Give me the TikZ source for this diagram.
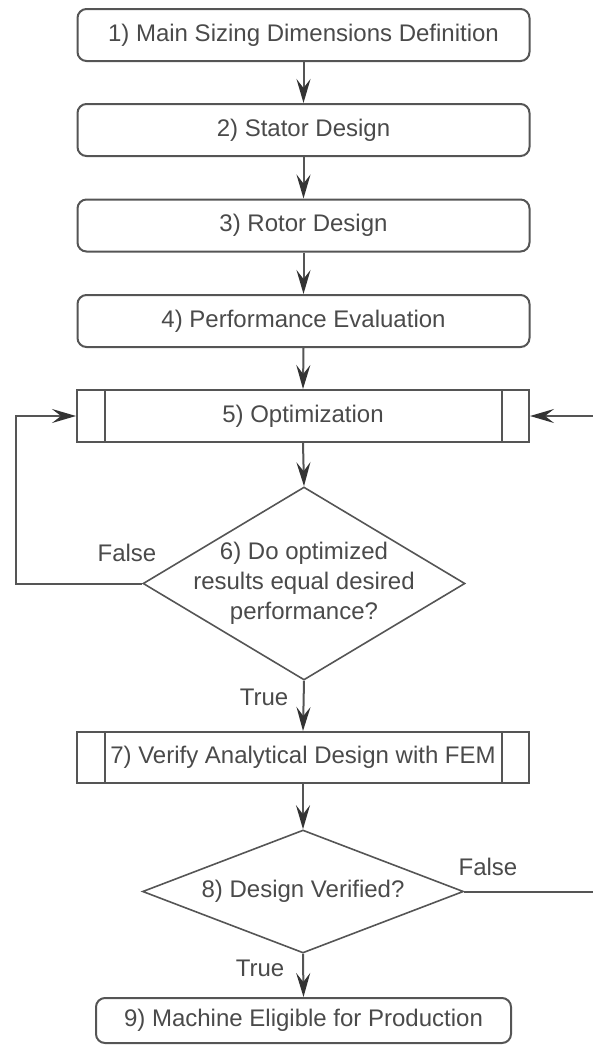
\documentclass[tikz,border=0pt]{standalone}
\usepackage{fontspec}
\setmainfont{Liberation Sans}
\usetikzlibrary{arrows.meta,shapes.geometric}
\definecolor{ink}{HTML}{4A4A4A}
\definecolor{edge}{HTML}{555555}
\definecolor{tipc}{HTML}{333333}

\begin{document}
\begin{tikzpicture}[x=1pt,y=-1pt,
  every node/.style={font=\fontsize{24}{30}\selectfont, text=ink},
  proc/.style={draw=edge, line width=2pt, rounded corners=9pt,
    minimum width=452pt, minimum height=52pt, inner sep=0pt},
  subproc/.style={draw=edge, line width=2pt,
    minimum width=452pt, minimum height=52pt, inner sep=0pt},
  decision/.style={draw=edge, line width=1.6pt, diamond, inner sep=0pt},
  flow/.style={draw=edge, line width=2pt,
    -{Stealth[length=24pt,width=14pt,inset=9pt,color=tipc]}},
  plain/.style={draw=edge, line width=2pt},
  bar/.style={draw=edge, line width=2pt}
]
\useasboundingbox (0,0) rectangle (593,1045);

% main chain of steps
\node[proc] (b1) at (303.5,35) {1) Main Sizing Dimensions Definition};
\node[proc] (b2) at (303.5,130) {2) Stator Design};
\node[proc] (b3) at (303.5,225.5) {3) Rotor Design};
\node[proc] (b4) at (303.5,321) {4) Performance Evaluation};

% predefined process: optimisation
\node[subproc] (b5) at (303,416) {5) Optimization};
\draw[bar] ([xshift=28.5pt]b5.north west) -- ([xshift=28.5pt]b5.south west);
\draw[bar] ([xshift=-28.5pt]b5.north east) -- ([xshift=-28.5pt]b5.south east);

% first decision
\node[decision, minimum width=322pt, minimum height=193pt,
  label={[align=center, font=\fontsize{24}{30}\selectfont, text=ink]center:6) Do optimized\\results equal desired\\performance?}]
  (d6) at (304,583.5) {};

% predefined process: FEM check
\node[subproc, minimum height=51pt] (b7) at (303,757.5) {7) Verify Analytical Design with FEM};
\draw[bar] ([xshift=28.5pt]b7.north west) -- ([xshift=28.5pt]b7.south west);
\draw[bar] ([xshift=-28.5pt]b7.north east) -- ([xshift=-28.5pt]b7.south east);

% second decision
\node[decision, minimum width=321pt, minimum height=123pt,
  label={[font=\fontsize{24}{30}\selectfont, text=ink]center:8) Design Verified?}]
  (d8) at (303,891.5) {};

% final step
\node[proc, minimum width=415pt, minimum height=45pt] (b9) at (303.5,1020.5)
  {9) Machine Eligible for Production};

% branch labels
\node (f6) at (127,553) {False};
\node (t6) at (264,697) {True};
\node (f8) at (488,867) {False};
\node (t8) at (260,968) {True};

% loop points
\coordinate (loopL) at (16,0);
\coordinate (edgeIn) at (593,416);
\coordinate (edgeOut) at (593,891.5);

% connectors
\draw[flow] (b1) -- (b2);
\draw[flow] (b2) -- (b3);
\draw[flow] (b3) -- (b4);
\draw[flow] (b4.south) -- (b5.north);
\draw[flow] (b5.south) -- (d6.north);
\draw[flow] (d6.south) -- (b7.north);
\draw[flow] (b7.south) -- (d8.north);
\draw[flow] (d8.south) -- (b9.north);
\draw[flow] (d6.west) -- (d6.west -| loopL) |- (b5.west);
\draw[plain] (d8.east) -- (edgeOut);
\draw[flow] (edgeIn) -- (b5.east);
\end{tikzpicture}
\end{document}
